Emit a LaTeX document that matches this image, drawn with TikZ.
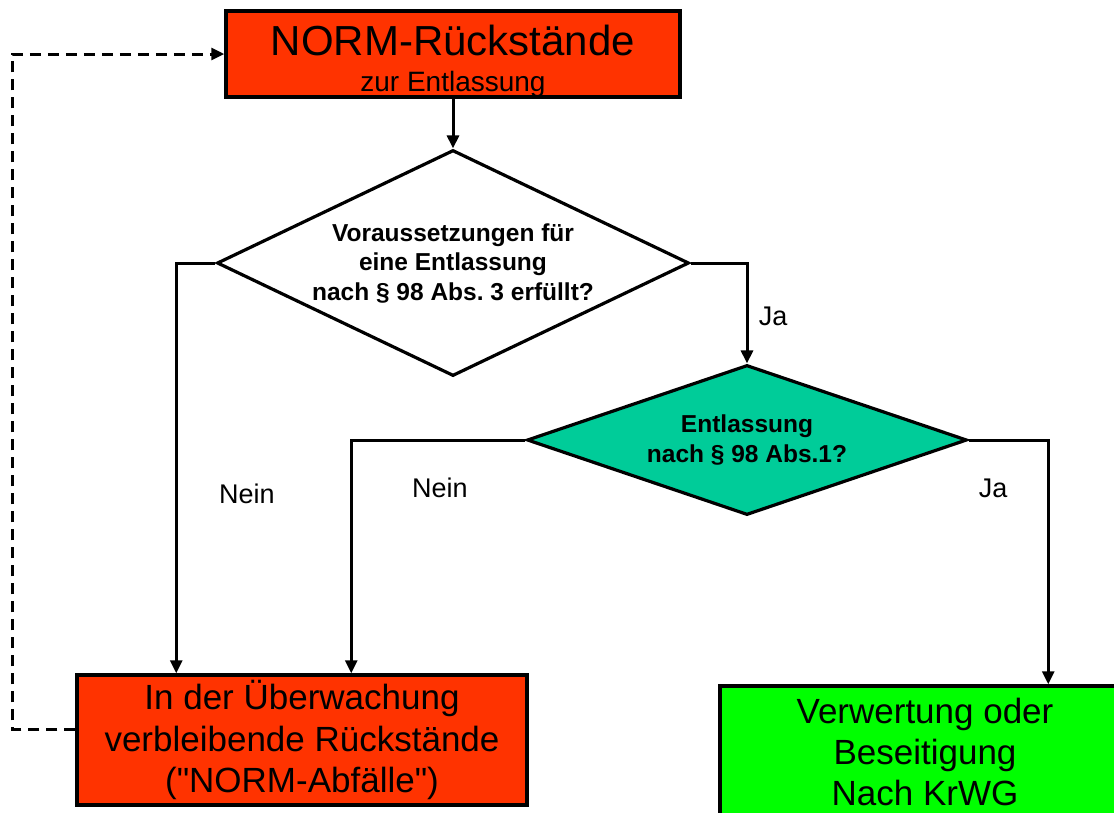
\documentclass[tikz,border=0pt]{standalone}
\usepackage{fontspec}
\setmainfont{Liberation Sans}
\usetikzlibrary{shapes.geometric,arrows.meta,calc}
\definecolor{normred}{RGB}{255,51,0}
\definecolor{decteal}{RGB}{0,204,153}
\definecolor{okgreen}{RGB}{0,255,0}
% straight double quote, set as a glyph so no ligature mapping curls it
\newcommand\plainquote{\XeTeXglyph\XeTeXcharglyph"22\relax}
\frenchspacing
\begin{document}
\begin{tikzpicture}[x=1pt,y=-1pt,
  box/.style={draw=black, line width=3.5pt, rectangle, inner sep=0pt, align=center},
  decision/.style={draw=black, line width=3.2pt, diamond, inner sep=0pt, align=center,
    font=\bfseries\fontsize{24.5}{29.5}\selectfont},
  flow/.style={line width=3pt, -{Triangle[length=13pt,width=12pt]}},
  loop/.style={flow, dash pattern=on 11pt off 7pt},
  answer/.style={font=\fontsize{27}{32}\selectfont, inner sep=0pt}
]
\useasboundingbox (0,0) rectangle (1114,812);
\clip (0,0) rectangle (1114,812);
\fill[white] (0,0) rectangle (1114,812);

% boxes
\node[box, fill=normred, minimum width=454pt, minimum height=86pt] (top) at (453,54) {};
\node[align=center, inner sep=0pt, font=\fontsize{28}{36}\selectfont] (toptext) at (453,61)
  {{\fontsize{42}{42}\selectfont NORM-Rückstände}\\zur Entlassung};

\node[box, fill=normred, minimum width=450pt, minimum height=130pt,
  font=\fontsize{35}{41.5}\selectfont] (hold) at (302,740)
  {In der Überwachung\\verbleibende Rückstände\\(\plainquote NORM-Abfälle\plainquote)};

\node[box, fill=okgreen, minimum width=410pt, minimum height=132pt,
  font=\fontsize{35}{41}\selectfont] (reuse) at (925,752)
  {Verwertung oder\\Beseitigung\\Nach KrWG};

% decisions
\node[decision, fill=white, aspect=2.088, minimum width=472pt, minimum height=226pt] (check3) at (453,263)
  {Voraussetzungen für\\eine Entlassung\\nach § 98 Abs. 3 erfüllt?};
\node[decision, fill=decteal, aspect=2.933, minimum width=440pt, minimum height=150pt] (check1) at (747,440)
  {Entlassung\\nach § 98 Abs.1?};

% connectors
\draw[flow] (top.south) -- (check3.north);
\draw[flow] (check3.west) -| ($(hold.north west)+(101,0)$);
\draw[flow] (check3.east) -| (check1.north);
\draw[flow] (check1.west) -| ($(hold.north west)+(276,0)$);
\draw[flow] (check1.east) -| ($(reuse.north west)+(330,0)$);

\coordinate (loopcorner) at (12,729);
\draw[loop] ($(hold.west)+(0,-11)$) -- (loopcorner) |- (top.west);

% branch labels
\node[answer] (yes3) at (773,316) {Ja};
\node[answer] (no3) at (247,494) {Nein};
\node[answer] (no1) at (440,488) {Nein};
\node[answer] (yes1) at (993,488) {Ja};
\end{tikzpicture}
\end{document}
